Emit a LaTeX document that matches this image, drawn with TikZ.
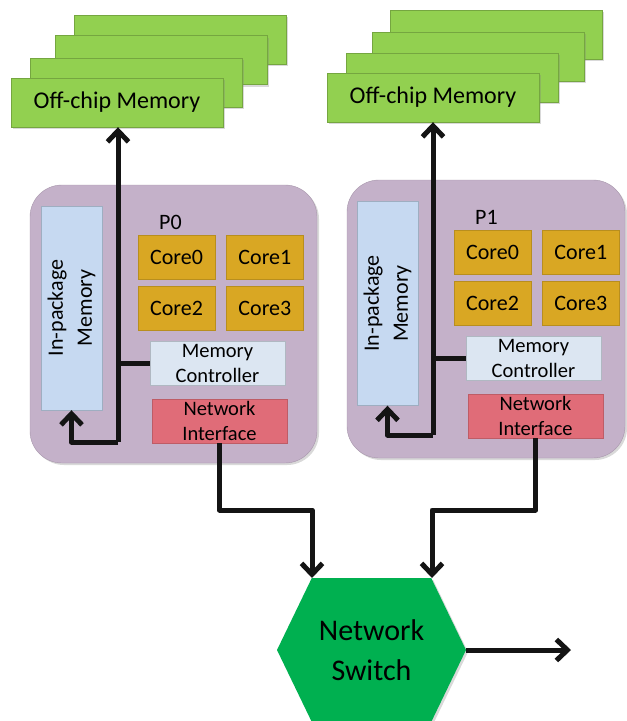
\documentclass[tikz,border=0pt]{standalone}
\usepackage{fontspec}
\setmainfont{Carlito}
\usetikzlibrary{positioning,shapes.symbols,shadows,arrows.meta}
\definecolor{offgreen}{RGB}{146,208,80}
\definecolor{pkgpurple}{RGB}{196,177,201}
\definecolor{inmemblue}{RGB}{198,217,241}
\definecolor{coregold}{RGB}{217,167,35}
\definecolor{mcblue}{RGB}{220,230,242}
\definecolor{nired}{RGB}{224,108,120}
\definecolor{swgreen}{RGB}{0,176,80}
\definecolor{wirecol}{RGB}{20,20,20}
\tikzset{
  shad/.style={drop shadow={opacity=0.3,shadow xshift=2pt,shadow yshift=-2pt}},
  offmem/.style={draw=offgreen!80!black,fill=offgreen,shad,minimum width=212pt,minimum height=49pt,inner sep=0pt,font=\fontsize{24}{28}\selectfont},
  pkg/.style={draw=pkgpurple!85!black,fill=pkgpurple,shad,rounded corners=32pt,minimum height=278pt},
  inmem/.style={draw=inmemblue!80!black,fill=inmemblue,rotate=90,minimum width=204pt,minimum height=61pt,inner sep=0pt,align=center,font=\fontsize{22}{29}\selectfont},
  core/.style={draw=coregold!85!black,fill=coregold,minimum width=77pt,minimum height=44pt,inner sep=0pt,font=\fontsize{22}{25}\selectfont},
  mctrl/.style={draw=mcblue!80!black,fill=mcblue,minimum width=135pt,minimum height=44pt,inner sep=0pt,align=center,font=\fontsize{20.5}{25}\selectfont},
  netif/.style={draw=nired!85!black,fill=nired,minimum width=135pt,minimum height=44pt,inner sep=0pt,align=center,font=\fontsize{20.5}{25}\selectfont},
  plabel/.style={font=\fontsize{22}{26}\selectfont,inner sep=0pt},
  switch/.style={signal,signal to=east and west,signal pointer angle=128.4,minimum width=189pt,minimum height=144pt,inner sep=0pt,outer sep=0pt,fill=swgreen,shad,align=center,font=\fontsize{30}{40}\selectfont},
  wire/.style={draw=wirecol,line width=5pt,line join=round},
  arr/.style={wire,-{Straight Barb[length=11pt,width=21pt]}}
}
\begin{document}
\begin{tikzpicture}[x=1pt,y=-1pt]
\useasboundingbox (0,0) rectangle (627,721);
\node(off0d) [offmem] at (180,39.5) {};
\node(off0c) [offmem] at (161,60) {};
\node(off0b) [offmem] at (136,82.5) {};
\node(off0) [offmem] at (117,102.5) {Off-chip Memory};
\node(off1d) [offmem] at (496,34.5) {};
\node(off1c) [offmem] at (478,56.5) {};
\node(off1b) [offmem] at (452,77.5) {};
\node(off1) [offmem] at (433,97.5) {Off-chip Memory};
\node(pkg0) [pkg,minimum width=287pt] at (173.5,324) {};
\node(pkg1) [pkg,minimum width=278pt] at (486,319) {};
\node(inmem0) [inmem] at (71.5,308) {In-package\\Memory};
\node(inmem1) [inmem] at (387.5,303.5) {In-package\\Memory};
\node(p0) [plabel] at (170.5,222) {P0};
\node(p1) [plabel] at (486.5,217) {P1};
\node(c00) [core] at (176.5,257) {Core0};
\node(c01) [core,right=11pt of c00] {Core1};
\node(c02) [core,below=7pt of c00] {Core2};
\node(c03) [core,right=11pt of c02] {Core3};
\node(c10) [core] at (492.5,252) {Core0};
\node(c11) [core,right=11pt of c10] {Core1};
\node(c12) [core,below=7pt of c10] {Core2};
\node(c13) [core,right=11pt of c12] {Core3};
\node(mc0) [mctrl] at (217.5,363) {Memory\\Controller};
\node(mc1) [mctrl] at (533.5,358.5) {Memory\\Controller};
\node(ni0) [netif] at (219.5,421) {Network\\Interface};
\node(ni1) [netif] at (535.5,416) {Network\\Interface};
\node(sw) [switch] at (371.5,650) {Network\\Switch};
\coordinate(j0) at (118,442);
\coordinate(j1) at (433,435);
\coordinate(b0) at (312,510);
\coordinate(b1) at (432,510);
\coordinate(out) at (571,650);
\draw[arr] (j0) -- (j0 |- off0.south);
\draw[arr] (j0) -| (inmem0.west);
\draw[wire] (mc0.west) -- (mc0.west -| j0);
\draw[arr] (j1) -- (j1 |- off1.south);
\draw[arr] (j1) -| (inmem1.west);
\draw[wire] (mc1.west) -- (mc1.west -| j1);
\draw[arr] (ni0.south) |- (b0) -- (b0 |- sw.north);
\draw[arr] (ni1.south) |- (b1) -- (b1 |- sw.north);
\draw[arr] (sw.east) -- (out);
\end{tikzpicture}
\end{document}
